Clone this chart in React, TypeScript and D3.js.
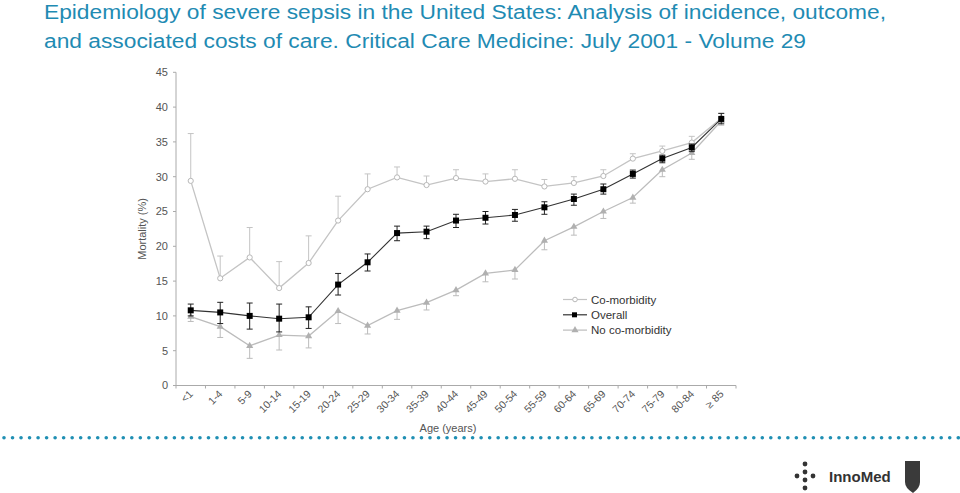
import React from "react";
import * as d3 from "d3";

const ageGroups = ["<1","1-4","5-9","10-14","15-19","20-24","25-29","30-34","35-39","40-44","45-49","50-54","55-59","60-64","65-69","70-74","75-79","80-84","≥ 85"];
const coMorbidity = [29.4,15.4,18.4,14.0,17.6,23.7,28.2,29.9,28.8,29.8,29.3,29.7,28.6,29.1,30.1,32.6,33.7,34.9,38.4];
const coMorbidityHigh = [36.2,18.6,22.7,17.8,21.5,27.2,30.4,31.4,30.1,31.0,30.4,31.0,29.6,30.0,31.0,33.3,34.4,35.8,39.1];
const overall = [10.8,10.5,10.0,9.6,9.8,14.5,17.7,21.9,22.1,23.7,24.1,24.5,25.6,26.8,28.2,30.4,32.6,34.2,38.3];
const overallHigh = [11.7,11.95,11.85,11.7,11.3,16.1,18.9,22.9,22.9,24.6,25.0,25.3,26.4,27.5,28.95,30.95,33.1,34.7,39.1];
const overallLow = [10.0,8.9,8.1,7.7,8.2,13.0,16.45,20.8,21.1,22.7,23.2,23.6,24.6,25.9,27.5,29.8,32.0,33.6,37.6];
const noCoMorbidity = [9.9,8.45,5.7,7.25,7.1,10.7,8.6,10.75,11.9,13.7,16.1,16.6,20.8,22.8,25.0,27.0,31.0,33.4,38.0];
const noCoMorbidityLow = [9.2,6.9,3.9,5.1,5.4,8.9,7.4,9.5,10.85,12.9,14.9,15.3,19.5,21.6,24.0,26.2,30.0,32.5,37.4];
const yTicks = [0,5,10,15,20,25,30,35,40,45];
const titleLines = [
  "Epidemiology of severe sepsis in the United States: Analysis of incidence, outcome,",
  "and associated costs of care. Critical Care Medicine: July 2001 - Volume 29",
];
const titleWidths = [842, 762];
const legendItems = ["Co-morbidity", "Overall", "No co-morbidity"];

const W = 960, H = 493;
const plot = { left: 176, right: 736, top: 72.3, bottom: 385.5 };

export default function App() {
  const x = d3.scaleBand<string>().domain(ageGroups).range([plot.left, plot.right]).padding(0);
  const cx = (i: number) => (x(ageGroups[i]) as number) + x.bandwidth() / 2;
  const y = d3.scaleLinear().domain([0, 45]).range([plot.bottom, plot.top]);
  const line = d3.line<number>().x((_, i) => cx(i)).y((v) => y(v));
  const tri = d3.symbol().type(d3.symbolTriangle).size(22)() as string;
  const dotsX = d3.range(4, W, 8.52);
  const cap = 3;
  const coColor = "#c4c4c4";
  const noColor = "#bcbcbc";

  return (
    <svg width={W} height={H} style={{ position: "absolute", left: 0, top: 0, display: "block" }} fontFamily="'Liberation Sans', Arial, sans-serif">
      <rect width={W} height={H} fill="#fff" />
      {titleLines.map((t, i) => (
        <text key={i} x={44} y={18.5 + i * 29.5} fontSize={20} fill="#1f8bb3" fontFamily="'Liberation Sans', Arial, sans-serif" textLength={titleWidths[i]} lengthAdjust="spacingAndGlyphs">{t}</text>
      ))}

      {/* axes */}
      <line x1={plot.left} x2={plot.left} y1={y(45)} y2={y(0)} stroke="#aaa" />
      <line x1={plot.left} x2={plot.right} y1={y(0)} y2={y(0)} stroke="#aaa" />
      {yTicks.map((t) => (
        <g key={t}>
          <line x1={plot.left - 3} x2={plot.left} y1={y(t)} y2={y(t)} stroke="#aaa" />
          <text x={168} y={y(t)} dy="0.35em" textAnchor="end" fontSize={11} fill="#555">{t}</text>
        </g>
      ))}
      {ageGroups.map((g, i) => (
        <g key={g}>
          <line x1={x(g) as number} x2={x(g) as number} y1={y(0)} y2={y(0) + 3} stroke="#aaa" />
          <text transform={`translate(${cx(i) + 3},${y(0) + 9}) rotate(-45)`} textAnchor="end" fontSize={10.5} fill="#555">{g}</text>
        </g>
      ))}
      <line x1={plot.right} x2={plot.right} y1={y(0)} y2={y(0) + 3} stroke="#aaa" />
      <text x={448} y={432} textAnchor="middle" fontSize={11} fill="#555">Age (years)</text>
      <text transform={`translate(146,${(plot.top + plot.bottom) / 2}) rotate(-90)`} textAnchor="middle" fontSize={11} fill="#555">Mortality (%)</text>

      {/* co-morbidity */}
      {coMorbidity.map((v, i) => (
        <g key={"ce" + i} stroke={coColor}>
          <line x1={cx(i)} x2={cx(i)} y1={y(v)} y2={y(coMorbidityHigh[i])} />
          <line x1={cx(i) - cap} x2={cx(i) + cap} y1={y(coMorbidityHigh[i])} y2={y(coMorbidityHigh[i])} />
        </g>
      ))}
      <path d={line(coMorbidity) as string} fill="none" stroke={coColor} strokeWidth={1.3} />
      {coMorbidity.map((v, i) => (
        <circle key={"cm" + i} cx={cx(i)} cy={y(v)} r={2.6} fill="#fff" stroke="#b8b8b8" />
      ))}

      {/* no co-morbidity */}
      {noCoMorbidity.map((v, i) => (
        <g key={"ne" + i} stroke={noColor}>
          <line x1={cx(i)} x2={cx(i)} y1={y(v)} y2={y(noCoMorbidityLow[i])} />
          <line x1={cx(i) - cap} x2={cx(i) + cap} y1={y(noCoMorbidityLow[i])} y2={y(noCoMorbidityLow[i])} />
        </g>
      ))}
      <path d={line(noCoMorbidity) as string} fill="none" stroke={noColor} strokeWidth={1.3} />
      {noCoMorbidity.map((v, i) => (
        <path key={"nm" + i} d={tri} transform={`translate(${cx(i)},${y(v)})`} fill="#b0b0b0" />
      ))}

      {/* overall */}
      {overall.map((v, i) => (
        <g key={"oe" + i} stroke="#222">
          <line x1={cx(i)} x2={cx(i)} y1={y(overallLow[i])} y2={y(overallHigh[i])} />
          <line x1={cx(i) - cap} x2={cx(i) + cap} y1={y(overallHigh[i])} y2={y(overallHigh[i])} />
          <line x1={cx(i) - cap} x2={cx(i) + cap} y1={y(overallLow[i])} y2={y(overallLow[i])} />
        </g>
      ))}
      <path d={line(overall) as string} fill="none" stroke="#333" strokeWidth={1.1} />
      {overall.map((v, i) => (
        <rect key={"om" + i} x={cx(i) - 3} y={y(v) - 3} width={6} height={6} fill="#000" />
      ))}

      {/* legend */}
      {legendItems.map((name, i) => {
        const ly = 299.5 + i * 15.3;
        return (
          <g key={name}>
            <line x1={563} x2={587} y1={ly} y2={ly} stroke={i === 1 ? "#333" : i === 0 ? coColor : noColor} strokeWidth={1.2} />
            {i === 0 && <circle cx={575} cy={ly} r={2.3} fill="#fff" stroke="#b8b8b8" />}
            {i === 1 && <rect x={572} y={ly - 2.5} width={5} height={5} fill="#000" />}
            {i === 2 && <path d={tri} transform={`translate(575,${ly})`} fill="#b0b0b0" />}
            <text x={591} y={ly} dy="0.35em" fontSize={11.5} fill="#333">{name}</text>
          </g>
        );
      })}

      {/* dotted separator */}
      {dotsX.map((dx, i) => (
        <circle key={"d" + i} cx={dx} cy={437.7} r={1.8} fill="#1f8fb3" />
      ))}

      {/* logo */}
      <g fill="#333">
        <circle cx={805} cy={464} r={2.4} />
        <circle cx={797} cy={476} r={2.4} />
        <circle cx={805} cy={472} r={2.4} />
        <circle cx={805} cy={480} r={2.4} />
        <circle cx={813} cy={476} r={2.4} />
        <circle cx={805} cy={488} r={2.4} />
        <text x={829} y={482} fontSize={15} fontWeight="bold" fill="#333" fontFamily="'Liberation Sans Narrow', 'Liberation Sans', Arial, sans-serif">InnoMed</text>
        <path d="M905,461 L920,461 L920,482 Q920,488 913,493 Q905,488 905,482 Z" fill="#3a3a3a" />
      </g>
    </svg>
  );
}
